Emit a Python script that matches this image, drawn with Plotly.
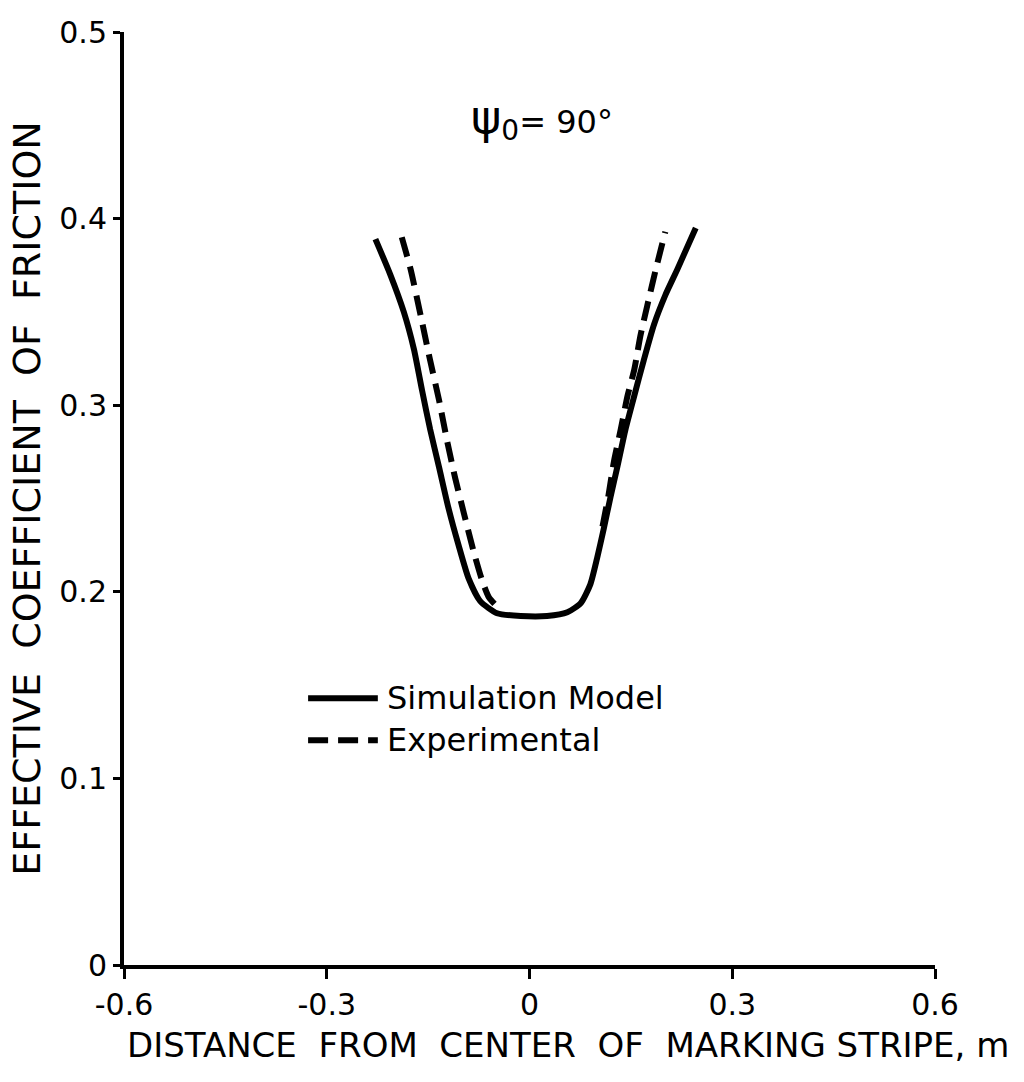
import plotly.graph_objects as go

# Simulation model (solid)
sim_x = [-0.228, -0.206, -0.186, -0.171, -0.159, -0.147, -0.134, -0.120, -0.105, -0.090,
         -0.073, -0.048, -0.013, 0.026, 0.056, 0.076, 0.090, 0.100, 0.110, 0.120,
         0.130, 0.142, 0.155, 0.169, 0.184, 0.201, 0.219, 0.246]
sim_y = [0.389, 0.370, 0.350, 0.330, 0.308, 0.287, 0.267, 0.245, 0.225, 0.207,
         0.195, 0.1885, 0.187, 0.187, 0.189, 0.194, 0.204, 0.218, 0.234, 0.251,
         0.267, 0.287, 0.305, 0.324, 0.343, 0.359, 0.373, 0.395]

# Experimental (dashed), two branches
exp_left_x = [-0.189, -0.176, -0.161, -0.147, -0.134, -0.122, -0.110, -0.097, -0.083, -0.070, -0.060, -0.045]
exp_left_y = [0.390, 0.373, 0.348, 0.324, 0.303, 0.281, 0.261, 0.242, 0.222, 0.206, 0.197, 0.191]
exp_right_x = [0.108, 0.117, 0.125, 0.135, 0.145, 0.155, 0.164, 0.174, 0.187, 0.201]
exp_right_y = [0.235, 0.252, 0.270, 0.287, 0.305, 0.319, 0.337, 0.353, 0.373, 0.393]

x_ticks = [-0.6, -0.3, 0, 0.3, 0.6]
x_ticklabels = ["-0.6", "-0.3", "0", "0.3", "0.6"]
y_ticks = [0, 0.1, 0.2, 0.3, 0.4, 0.5]
y_ticklabels = ["0", "0.1", "0.2", "0.3", "0.4", "0.5"]

series_names = ["Simulation Model", "Experimental"]

FONT = "DejaVu Sans"
LW = 6
DASH = "20px,10px"

fig = go.Figure()
fig.add_trace(go.Scatter(x=sim_x, y=sim_y, mode="lines", name=series_names[0],
                         line=dict(color="black", width=LW, shape="spline", smoothing=0.6)))
fig.add_trace(go.Scatter(x=exp_left_x + [None] + exp_right_x,
                         y=exp_left_y + [None] + exp_right_y,
                         mode="lines", name=series_names[1], connectgaps=False,
                         line=dict(color="black", width=LW, dash=DASH,
                                   shape="spline", smoothing=0.6)))

# psi annotation
fig.add_annotation(x=0.515, y=0.94, xref="paper", yref="paper",
                   text="<span style='font-size:46px'>ψ</span><sub><span style='font-size:28px'>0</span></sub>= 90°",
                   showarrow=False,
                   font=dict(family=FONT, size=32, color="black"))

# manual legend (key lines + labels)
leg_rows = [0.286, 0.241]
for name, yrow, dash in zip(series_names, leg_rows, ["solid", DASH]):
    fig.add_shape(type="line", xref="paper", yref="paper",
                  x0=0.227, x1=0.313, y0=yrow, y1=yrow,
                  line=dict(color="black", width=LW, dash=dash))
    fig.add_annotation(x=0.322, y=yrow, xref="paper", yref="paper",
                       text=name, showarrow=False, xanchor="left", yanchor="middle",
                       font=dict(family=FONT, size=32, color="black"))

# x-axis title
fig.add_annotation(x=0.548, y=-0.086, xref="paper", yref="paper",
                   text="DISTANCE  FROM  CENTER  OF  MARKING STRIPE, m",
                   showarrow=False, yanchor="middle",
                   font=dict(family=FONT, size=34, color="black"))

fig.update_xaxes(range=[-0.6, 0.6], tickvals=x_ticks, ticktext=x_ticklabels,
                 showgrid=False, zeroline=False, showline=True, linecolor="black",
                 linewidth=4, ticks="outside", ticklen=10, tickwidth=3, tickcolor="black",
                 tickfont=dict(family=FONT, size=30, color="black"))
fig.update_yaxes(range=[0, 0.5], tickvals=y_ticks, ticktext=y_ticklabels,
                 showgrid=False, zeroline=False, showline=True, linecolor="black",
                 linewidth=4, ticks="outside", ticklen=7, tickwidth=3, tickcolor="black",
                 tickfont=dict(family=FONT, size=30, color="black"),
                 title=dict(text="EFFECTIVE  COEFFICIENT  OF  FRICTION",
                            font=dict(family=FONT, size=38, color="black"), standoff=8))

fig.update_layout(width=1024, height=1082,
                  margin=dict(l=124, r=89, t=32, b=117),
                  paper_bgcolor="white", plot_bgcolor="white",
                  showlegend=False)

fig.write_html("out.html")
